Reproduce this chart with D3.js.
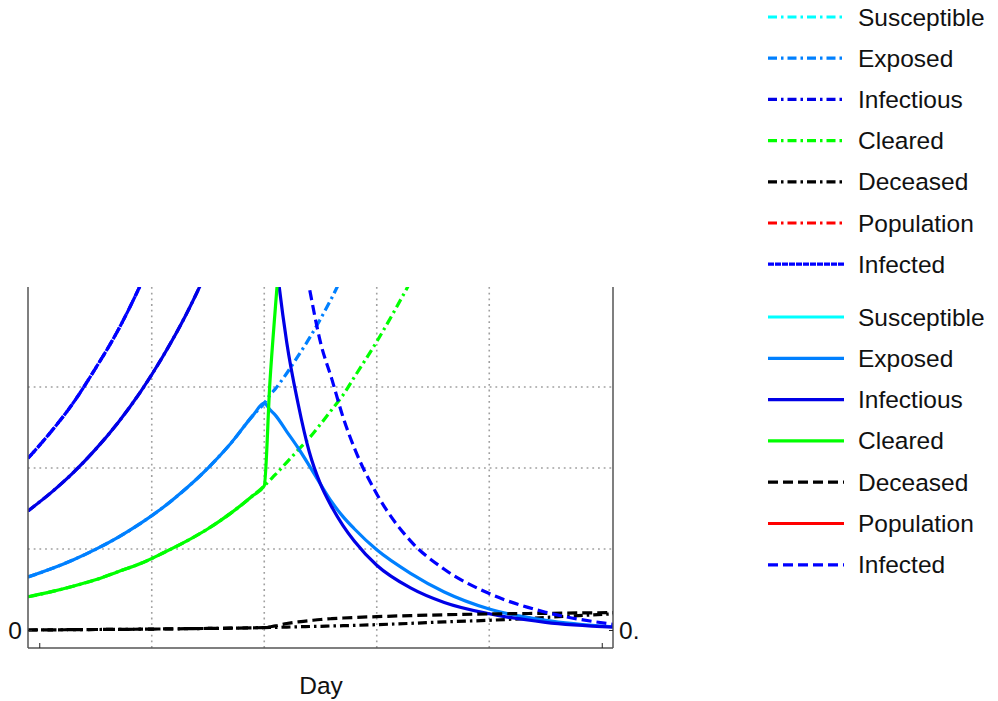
<!DOCTYPE html>
<html>
<head>
<meta charset="utf-8">
<script src="https://cdn.jsdelivr.net/npm/d3@7/dist/d3.min.js"></script>
<style>
  html, body { margin: 0; padding: 0; background: #fff; }
  svg { display: block; font-family: "Liberation Sans", Arial, sans-serif; }
</style>
</head>
<body>
<svg id="chart" width="998" height="701"></svg>
<script>
// ---- data -------------------------------------------------------------
// Days before the intervention (both scenarios share this stretch)
const dayEarly = [-1, 1, 3, 5, 7, 9, 11, 13, 15, 17, 19, 20];
const exposedEarly    = [0.654, 0.752, 0.865, 0.995, 1.144, 1.316, 1.513, 1.74, 2.0, 2.30, 2.65, 2.80];
const infectiousEarly = [1.47, 1.69, 1.94, 2.23, 2.56, 2.94, 3.38, 3.88, 4.46, 5.1, 5.9, 6.3];
const clearedEarly    = [0.41, 0.47, 0.54, 0.62, 0.72, 0.82, 0.95, 1.09, 1.25, 1.44, 1.66, 1.78];
const deceasedEarly   = [0.0, 0.002, 0.004, 0.006, 0.008, 0.01, 0.013, 0.016, 0.019, 0.022, 0.027, 0.03];
const infectedEarly   = [2.12, 2.44, 2.80, 3.23, 3.70, 4.26, 4.89, 5.62, 6.46, 7.4, 8.55, 9.1];

// Days from the intervention on
const dayLate = [20, 20.5, 21, 22, 23, 24, 25, 26, 27, 28, 30, 33, 36, 40, 45, 51];

// Scenario without measures (dash-dot); null = beyond the plotted range
const exposedNoAction    = [2.80, 2.90, 2.98, 3.17, 3.38, 3.60, 3.84, 4.10, 4.38, 4.65, null, null, null, null, null, null];
const infectiousNoAction = [6.3, 6.5, 6.75, null, null, null, null, null, null, null, null, null, null, null, null, null];
const clearedNoAction    = [1.78, 1.85, 1.92, 2.07, 2.22, 2.37, 2.54, 2.72, 2.90, 3.12, 3.56, 4.30, null, null, null, null];
const deceasedNoAction   = [0.03, 0.031, 0.032, 0.036, 0.04, 0.043, 0.046, 0.05, 0.053, 0.057, 0.066, 0.082, 0.10, 0.12, 0.155, 0.20];
const infectedNoAction   = [9.1, 9.4, 9.7, null, null, null, null, null, null, null, null, null, null, null, null, null];

// Scenario with measures (solid / dashed)
const exposedAction    = [2.80, 2.72, 2.65, 2.45, 2.25, 2.03, 1.80, 1.58, 1.40, 1.25, 0.99, 0.70, 0.47, 0.26, 0.12, 0.04];
const infectiousAction = [6.3, 5.4, 4.65, 3.55, 2.80, 2.20, 1.80, 1.52, 1.29, 1.10, 0.80, 0.52, 0.34, 0.20, 0.095, 0.035];
const clearedAction    = [1.78, 3.05, 4.0, 5.6, null, null, null, null, null, null, null, null, null, null, null, null];
const deceasedAction   = [0.03, 0.04, 0.05, 0.08, 0.10, 0.115, 0.13, 0.14, 0.148, 0.155, 0.165, 0.178, 0.188, 0.198, 0.206, 0.215];
const infectedAction   = [9.1, 8.1, 7.3, 6.0, 5.0, 4.23, 3.55, 3.1, 2.63, 2.25, 1.68, 1.10, 0.75, 0.45, 0.22, 0.07];

const legendNames = ["Susceptible", "Exposed", "Infectious", "Cleared", "Deceased", "Population", "Infected"];
const legendColors = ["#00ffff", "#0080ff", "#0000e6", "#00ff00", "#000000", "#ff0000", "#0000ff"];

const xTickValues = [0, 50];
const xGridValues = [10, 20, 30, 40];
const yGridValues = [1, 2, 3];
const yTickLabelLeft = "0";
const yTickLabelRight = "0.";
const xAxisTitle = "Day";

// ---- styles -----------------------------------------------------------
const DASHDOT = "9,4,2.5,4";
const DASHED = "10,5";
const DENSE = "6,1";
const LW = 3.2;
const FONT = 24.5;

// ---- layout -----------------------------------------------------------
const svg = d3.select("#chart");
const plot = { left: 28, right: 613, top: 287, bottom: 648 };

const x = d3.scaleLinear().domain([-1, 51]).range([plot.left, plot.right]);
const y = d3.scaleLinear().domain([-0.2222, 4.2346]).range([plot.bottom, plot.top]);

svg.append("defs").append("clipPath").attr("id", "plotClip")
  .append("rect")
  .attr("x", plot.left).attr("y", plot.top)
  .attr("width", plot.right - plot.left).attr("height", plot.bottom - plot.top);

// grid
const grid = svg.append("g");
grid.selectAll("line.vg").data(xGridValues).join("line")
  .attr("x1", d => x(d)).attr("x2", d => x(d))
  .attr("y1", plot.top).attr("y2", plot.bottom)
  .attr("stroke", "#a0a0a0").attr("stroke-width", 1.6).attr("stroke-dasharray", "1.8,3.9");
grid.selectAll("line.hg").data(yGridValues).join("line")
  .attr("x1", plot.left).attr("x2", plot.right)
  .attr("y1", d => y(d)).attr("y2", d => y(d))
  .attr("stroke", "#a0a0a0").attr("stroke-width", 1.6).attr("stroke-dasharray", "1.8,3.9");

// series
function pts(days, vals) {
  return days.map((d, i) => [d, vals[i]]);
}
function join(early, late) {
  return pts(dayEarly, early).concat(pts(dayLate, late).slice(1));
}
const line = d3.line()
  .defined(d => d[1] !== null)
  .x(d => x(d[0])).y(d => y(d[1]))
  .curve(d3.curveMonotoneX);

const series = [
  // without measures
  { data: join(exposedEarly, exposedNoAction), color: legendColors[1], dash: DASHDOT },
  { data: join(infectiousEarly, infectiousNoAction), color: legendColors[2], dash: DASHDOT },
  { data: join(clearedEarly, clearedNoAction), color: legendColors[3], dash: DASHDOT },
  { data: join(deceasedEarly, deceasedNoAction), color: legendColors[4], dash: DASHDOT },
  { data: join(infectedEarly, infectedNoAction), color: legendColors[6], dash: DENSE },
  // with measures
  { data: join(exposedEarly, exposedAction), color: legendColors[1], dash: null },
  { data: join(infectiousEarly, infectiousAction), color: legendColors[2], dash: null },
  { data: join(clearedEarly, clearedAction), color: legendColors[3], dash: null },
  { data: join(deceasedEarly, deceasedAction), color: legendColors[4], dash: DASHED },
  { data: join(infectedEarly, infectedAction), color: legendColors[6], dash: DASHED }
];

const lines = svg.append("g").attr("clip-path", "url(#plotClip)");
lines.selectAll("path").data(series).join("path")
  .attr("d", d => line(d.data))
  .attr("fill", "none")
  .attr("stroke", d => d.color)
  .attr("stroke-width", LW)
  .attr("stroke-dasharray", d => d.dash);

// axes frame
const axisColor = "#555";
const frame = svg.append("g").attr("stroke", axisColor).attr("stroke-width", 1.5).attr("fill", "none");
frame.append("line").attr("x1", plot.left).attr("x2", plot.left).attr("y1", plot.top).attr("y2", plot.bottom);
frame.append("line").attr("x1", plot.right).attr("x2", plot.right).attr("y1", plot.top).attr("y2", plot.bottom);
frame.append("line").attr("x1", plot.left).attr("x2", plot.right).attr("y1", plot.bottom).attr("y2", plot.bottom);

// x ticks (inward)
const xAxis = d3.axisTop(x).tickValues(xTickValues).tickSize(5).tickFormat("");
const gx = svg.append("g").attr("transform", `translate(0,${plot.bottom})`).call(xAxis);
gx.select(".domain").remove();
gx.selectAll(".tick line").attr("stroke", "#222").attr("stroke-width", 1);

// y ticks at zero, both sides
const gyl = svg.append("g").attr("transform", `translate(${plot.left},0)`)
  .call(d3.axisRight(y).tickValues([0]).tickSize(4).tickFormat(""));
gyl.select(".domain").remove();
gyl.selectAll(".tick line").attr("stroke", "#222");
const gyr = svg.append("g").attr("transform", `translate(${plot.right},0)`)
  .call(d3.axisLeft(y).tickValues([0]).tickSize(4).tickFormat(""));
gyr.select(".domain").remove();
gyr.selectAll(".tick line").attr("stroke", "#222");

svg.append("text").attr("x", 22).attr("y", y(0)).attr("text-anchor", "end")
  .attr("dominant-baseline", "central").attr("font-size", FONT).attr("fill", "#111")
  .text(yTickLabelLeft);
svg.append("text").attr("x", 619).attr("y", y(0)).attr("text-anchor", "start")
  .attr("dominant-baseline", "central").attr("font-size", FONT).attr("fill", "#111")
  .text(yTickLabelRight);
svg.append("text").attr("x", 321).attr("y", 685).attr("text-anchor", "middle")
  .attr("dominant-baseline", "central").attr("font-size", FONT).attr("fill", "#111")
  .text(xAxisTitle);

// legend: two stacked groups (without measures, then with measures)
const legendRows = [];
const styleNoAction = [DASHDOT, DASHDOT, DASHDOT, DASHDOT, DASHDOT, DASHDOT, DENSE];
const styleAction = [null, null, null, null, DASHED, null, DASHED];
legendNames.forEach((n, i) => legendRows.push({ name: n, color: legendColors[i], dash: styleNoAction[i], cy: 17 + i * 41.2 }));
legendNames.forEach((n, i) => legendRows.push({ name: n, color: legendColors[i], dash: styleAction[i], cy: 317 + i * 41.3 }));

const lg = svg.append("g");
const row = lg.selectAll("g").data(legendRows).join("g")
  .attr("transform", d => `translate(0,${d.cy})`);
row.append("line")
  .attr("x1", 768).attr("x2", 844).attr("y1", 0).attr("y2", 0)
  .attr("stroke", d => d.color).attr("stroke-width", LW)
  .attr("stroke-dasharray", d => d.dash);
row.append("text")
  .attr("x", 858).attr("y", 0).attr("dominant-baseline", "central")
  .attr("font-size", FONT).attr("fill", "#111")
  .text(d => d.name);
</script>
</body>
</html>
